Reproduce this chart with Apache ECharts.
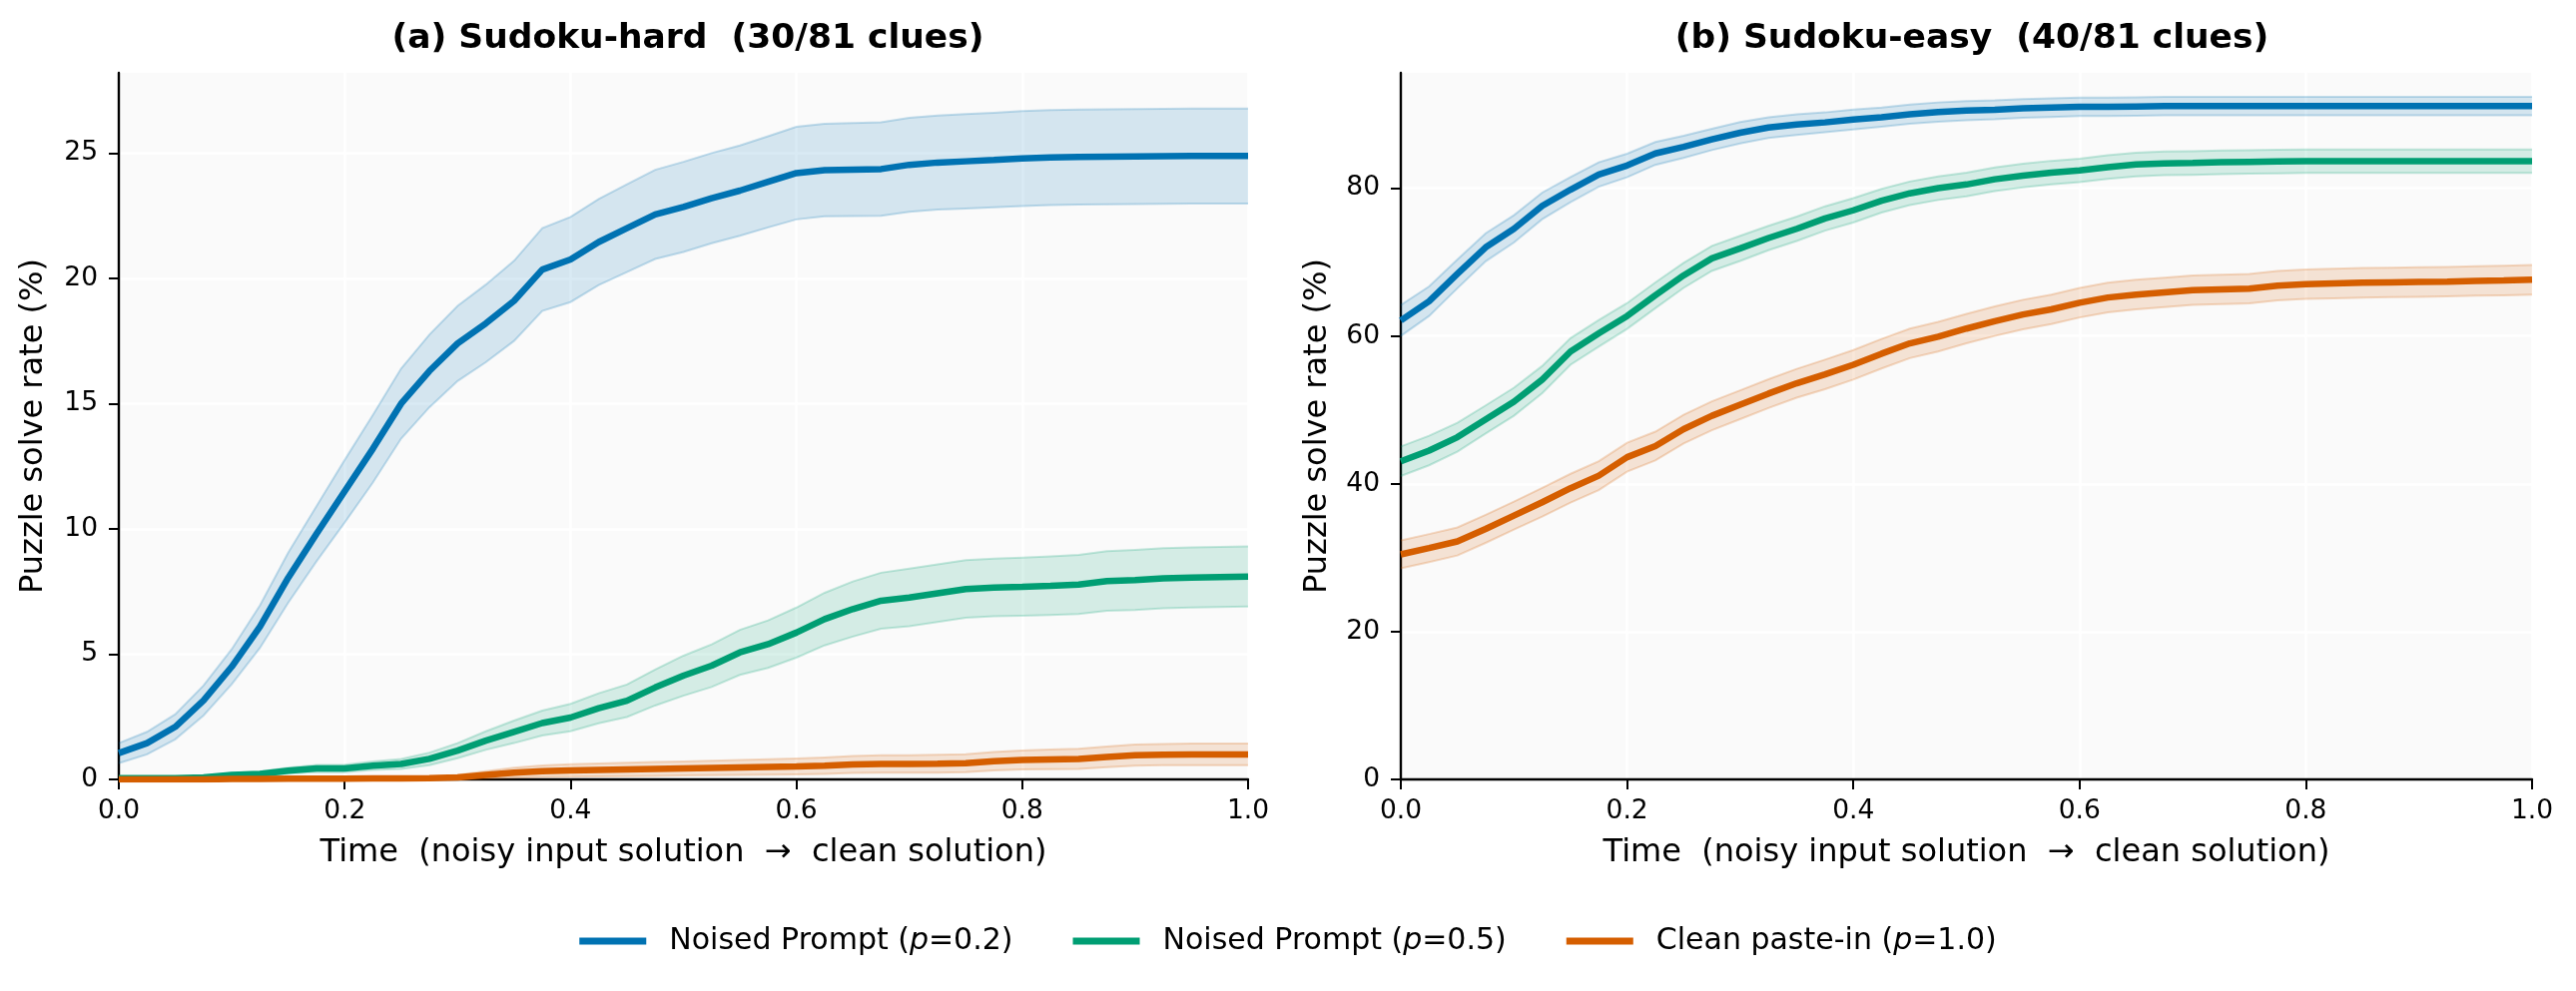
<!DOCTYPE html>
<html>
<head>
<meta charset="utf-8">
<script src="https://cdn.jsdelivr.net/npm/echarts@6/dist/echarts.min.js"></script>
<style>
  html, body { margin: 0; padding: 0; background: #fff; }
  #chart { width: 2580px; height: 993px; }
</style>
</head>
<body>
<div id="chart"></div>
<script>
// time steps (noisy -> clean)
const T = [0, 0.025, 0.05, 0.075, 0.1, 0.125, 0.15, 0.175, 0.2, 0.225, 0.25, 0.275, 0.3, 0.325, 0.35, 0.375, 0.4,
  0.425, 0.45, 0.475, 0.5, 0.525, 0.55, 0.575, 0.6, 0.625, 0.65, 0.675, 0.7, 0.725, 0.75, 0.775, 0.8, 0.825, 0.85,
  0.875, 0.9, 0.925, 0.95, 0.975, 1.0]

const SERIES_NAMES = ['Noised Prompt (p=0.2)', 'Noised Prompt (p=0.5)', 'Clean paste-in (p=1.0)']
const COLORS = ['#0072B2', '#009E73', '#D55E00']

// (a) Sudoku-hard, mean solve rate (%) and CI half width
const hardP02 = [1.05, 1.45, 2.1, 3.15, 4.5, 6.1, 8.05, 9.8, 11.5, 13.2, 15.0, 16.3, 17.4, 18.2, 19.1, 20.35, 20.75,
  21.45, 22.0, 22.55, 22.85, 23.2, 23.5, 23.85, 24.2, 24.32, 24.34, 24.36, 24.53, 24.62, 24.67, 24.72, 24.78, 24.82,
  24.84, 24.85, 24.86, 24.87, 24.88, 24.88, 24.88]
const hardP02Ci = [0.4, 0.45, 0.5, 0.6, 0.7, 0.85, 1.0, 1.1, 1.25, 1.35, 1.4, 1.45, 1.5, 1.55, 1.6, 1.65, 1.7, 1.72,
  1.75, 1.78, 1.8, 1.8, 1.8, 1.82, 1.85, 1.85, 1.86, 1.87, 1.88, 1.88, 1.89, 1.89, 1.9, 1.9, 1.9, 1.9, 1.9, 1.9, 1.9,
  1.9, 1.9]
const hardP05 = [0.05, 0.05, 0.05, 0.08, 0.18, 0.22, 0.35, 0.44, 0.44, 0.55, 0.62, 0.82, 1.15, 1.55, 1.9, 2.25, 2.47,
  2.84, 3.14, 3.67, 4.14, 4.54, 5.07, 5.4, 5.86, 6.4, 6.8, 7.13, 7.26, 7.43, 7.6, 7.66, 7.69, 7.73, 7.78, 7.92, 7.96,
  8.03, 8.06, 8.08, 8.1]
const hardP05Ci = [0.05, 0.05, 0.05, 0.06, 0.08, 0.1, 0.12, 0.14, 0.15, 0.17, 0.2, 0.25, 0.3, 0.37, 0.45, 0.5, 0.55,
  0.6, 0.65, 0.72, 0.8, 0.85, 0.9, 0.95, 1.0, 1.05, 1.1, 1.12, 1.15, 1.15, 1.15, 1.15, 1.16, 1.17, 1.18, 1.19, 1.2,
  1.2, 1.2, 1.2, 1.2]
const hardP10 = [0, 0, 0, 0, 0.02, 0.02, 0.03, 0.03, 0.03, 0.04, 0.04, 0.05, 0.08, 0.18, 0.27, 0.33, 0.36, 0.38, 0.4,
  0.42, 0.44, 0.46, 0.48, 0.5, 0.52, 0.55, 0.6, 0.62, 0.62, 0.63, 0.65, 0.73, 0.78, 0.8, 0.82, 0.9, 0.97, 0.99, 1.0,
  1.0, 1.0]
const hardP10Ci = [0, 0, 0, 0, 0.03, 0.03, 0.04, 0.04, 0.04, 0.05, 0.05, 0.06, 0.1, 0.15, 0.2, 0.23, 0.25, 0.26, 0.27,
  0.28, 0.28, 0.29, 0.3, 0.31, 0.32, 0.33, 0.34, 0.35, 0.35, 0.36, 0.36, 0.37, 0.38, 0.39, 0.4, 0.41, 0.42, 0.42,
  0.43, 0.43, 0.43]

// (b) Sudoku-easy
const easyP02 = [62.1, 64.7, 68.4, 72.0, 74.5, 77.6, 79.8, 81.85, 83.07, 84.7, 85.6, 86.6, 87.5, 88.2, 88.6, 88.9,
  89.3, 89.6, 90.0, 90.3, 90.5, 90.6, 90.8, 90.9, 91.0, 91.0, 91.05, 91.1, 91.1, 91.1, 91.1, 91.1, 91.1, 91.1, 91.1,
  91.1, 91.1, 91.1, 91.1, 91.1, 91.1]
const easyP02Ci = [2.1, 2.0, 1.95, 1.9, 1.85, 1.8, 1.7, 1.65, 1.6, 1.55, 1.5, 1.45, 1.45, 1.4, 1.4, 1.35, 1.35, 1.3,
  1.3, 1.3, 1.3, 1.28, 1.27, 1.26, 1.25, 1.25, 1.25, 1.25, 1.25, 1.25, 1.25, 1.25, 1.25, 1.25, 1.25, 1.25, 1.25,
  1.25, 1.25, 1.25, 1.25]
const easyP05 = [43.05, 44.5, 46.3, 48.7, 51.1, 54.1, 57.9, 60.36, 62.7, 65.5, 68.2, 70.5, 71.85, 73.25, 74.5, 75.9,
  77.0, 78.3, 79.3, 80.0, 80.5, 81.2, 81.7, 82.1, 82.4, 82.85, 83.2, 83.35, 83.4, 83.5, 83.55, 83.6, 83.65, 83.65,
  83.65, 83.65, 83.65, 83.65, 83.65, 83.65, 83.65]
const easyP05Ci = [2.0, 2.0, 1.95, 1.9, 1.9, 1.85, 1.8, 1.8, 1.75, 1.75, 1.7, 1.7, 1.7, 1.65, 1.65, 1.65, 1.65, 1.6,
  1.6, 1.6, 1.6, 1.6, 1.6, 1.6, 1.6, 1.6, 1.6, 1.6, 1.6, 1.6, 1.6, 1.6, 1.6, 1.6, 1.6, 1.6, 1.6, 1.6, 1.6, 1.6, 1.6]
const easyP10 = [30.45, 31.3, 32.2, 33.9, 35.7, 37.5, 39.4, 41.1, 43.6, 45.1, 47.4, 49.2, 50.7, 52.2, 53.6, 54.8,
  56.1, 57.6, 59.0, 59.9, 61.0, 62.0, 62.9, 63.6, 64.5, 65.2, 65.6, 65.9, 66.2, 66.3, 66.4, 66.8, 67.0, 67.1, 67.2,
  67.25, 67.3, 67.35, 67.45, 67.5, 67.6]
const easyP10Ci = [1.9, 1.9, 1.9, 1.9, 1.9, 1.95, 1.95, 1.95, 1.95, 1.95, 1.95, 1.95, 1.95, 1.95, 1.95, 2.0, 2.0, 2.0,
  2.0, 2.0, 2.0, 2.0, 2.0, 2.0, 2.0, 2.0, 2.0, 2.0, 2.0, 2.0, 2.0, 2.0, 2.0, 2.0, 2.0, 2.0, 2.0, 2.0, 2.0, 2.0, 2.0]

const X_TICKS = [0, 0.2, 0.4, 0.6, 0.8, 1.0]
const HARD_Y_TICKS = [0, 5, 10, 15, 20, 25]
const EASY_Y_TICKS = [0, 20, 40, 60, 80]

const FONT = 'DejaVu Sans'

function rgba(hex, a) {
  const n = parseInt(hex.slice(1), 16)
  return `rgba(${(n >> 16) & 255},${(n >> 8) & 255},${n & 255},${a})`
}

// shaded CI band as one polygon, positioned through the axes (api.coord)
function bandSeries(idx, name, color, mean, ci) {
  const lo = mean.map((m, i) => Math.max(0, m - ci[i]))
  const hi = mean.map((m, i) => m + ci[i])
  return {
    type: 'custom', name: name + ' band', xAxisIndex: idx, yAxisIndex: idx, silent: true, z: 1,
    data: T.map((t, i) => [t, lo[i], hi[i]]),
    encode: { x: 0, y: [1, 2] },
    renderItem: (params, api) => {
      if (params.dataIndex !== 0) return null
      const top = T.map((t, i) => api.coord([t, hi[i]]))
      const bot = T.map((t, i) => api.coord([t, lo[i]]))
      const edge = { fill: null, stroke: rgba(color, 0.22), lineWidth: 2 }
      return {
        type: 'group',
        children: [
          { type: 'polygon', shape: { points: top.concat(bot.slice().reverse()) },
            style: { fill: rgba(color, 0.15) } },
          { type: 'polyline', shape: { points: top }, style: edge },
          { type: 'polyline', shape: { points: bot }, style: edge }
        ]
      }
    }
  }
}

function lineSeries(idx, name, color, mean) {
  return {
    type: 'line', name, xAxisIndex: idx, yAxisIndex: idx, symbol: 'none', z: 3,
    data: T.map((t, i) => [t, mean[i]]),
    lineStyle: { color, width: 6.5 }, itemStyle: { color }
  }
}

function xAxis(idx) {
  return {
    type: 'value', gridIndex: idx, min: 0, max: 1, interval: 0.2,
    name: 'Time  (noisy input solution  \u2192  clean solution)',
    nameLocation: 'middle', nameGap: 58,
    nameTextStyle: { fontFamily: FONT, fontSize: 32, color: '#000' },
    axisLine: { show: true, lineStyle: { color: '#000', width: 2.4 } },
    axisTick: { show: true, length: 10, lineStyle: { color: '#000', width: 2 }, customValues: X_TICKS },
    axisLabel: { fontFamily: FONT, fontSize: 26.5, color: '#000', margin: 19, customValues: X_TICKS,
      formatter: v => v.toFixed(1) },
    splitLine: { show: true, lineStyle: { color: '#fff', width: 2.5 } }
  }
}

function yAxis(idx, max, interval, ticks, gap) {
  return {
    type: 'value', gridIndex: idx, min: 0, max, interval,
    name: 'Puzzle solve rate (%)', nameLocation: 'middle', nameGap: gap,
    nameTextStyle: { fontFamily: FONT, fontSize: 32, color: '#000' },
    axisLine: { show: true, lineStyle: { color: '#000', width: 2.4 } },
    axisTick: { show: true, length: 10, lineStyle: { color: '#000', width: 2 }, customValues: ticks },
    axisLabel: { fontFamily: FONT, fontSize: 26.5, color: '#000', margin: 21, customValues: ticks },
    splitLine: { show: true, lineStyle: { color: '#fff', width: 2.5 } }
  }
}

const panels = [
  [hardP02, hardP02Ci, hardP05, hardP05Ci, hardP10, hardP10Ci],
  [easyP02, easyP02Ci, easyP05, easyP05Ci, easyP10, easyP10Ci]
]

const bandList = []
const lineList = []
panels.forEach((p, idx) => {
  for (let k = 0; k < 3; k++) {
    bandList.push(bandSeries(idx, SERIES_NAMES[k], COLORS[k], p[k * 2], p[k * 2 + 1]))
    lineList.push(lineSeries(idx, SERIES_NAMES[k], COLORS[k], p[k * 2]))
  }
})

const chart = echarts.init(document.getElementById('chart'))
chart.setOption({
  animation: false,
  backgroundColor: '#fff',
  title: [
    { text: '(a) Sudoku-hard  (30/81 clues)', left: 684, top: 17, textAlign: 'center',
      textStyle: { fontFamily: FONT, fontSize: 34.5, fontWeight: 'bold', color: '#000' } },
    { text: '(b) Sudoku-easy  (40/81 clues)', left: 1970, top: 17, textAlign: 'center',
      textStyle: { fontFamily: FONT, fontSize: 34.5, fontWeight: 'bold', color: '#000' } }
  ],
  legend: {
    data: SERIES_NAMES, left: 'center', top: 923, icon: 'rect', itemWidth: 67, itemHeight: 7, itemGap: 60,
    selectedMode: false,
    formatter: name => {
      const m = name.match(/^(.*\()p(=.*)$/)
      return `{n|${m[1]}}{i|p}{n|${m[2]}}`
    },
    textStyle: {
      fontFamily: FONT, fontSize: 30, color: '#000', padding: [0, 0, 0, 18],
      rich: {
        n: { fontFamily: FONT, fontSize: 30, color: '#000' },
        i: { fontFamily: FONT, fontSize: 30, color: '#000', fontStyle: 'italic' }
      }
    }
  },
  grid: [
    { left: 119, right: 1330, top: 73, bottom: 212, show: true, backgroundColor: '#fafafa', borderWidth: 0,
      outerBoundsMode: 'none' },
    { left: 1403, right: 44, top: 73, bottom: 212, show: true, backgroundColor: '#fafafa', borderWidth: 0,
      outerBoundsMode: 'none' }
  ],
  xAxis: [xAxis(0), xAxis(1)],
  yAxis: [yAxis(0, 28.2, 5, HARD_Y_TICKS, 69), yAxis(1, 95.6, 20, EASY_Y_TICKS, 67)],
  series: [...bandList, ...lineList]
})
</script>
</body>
</html>
